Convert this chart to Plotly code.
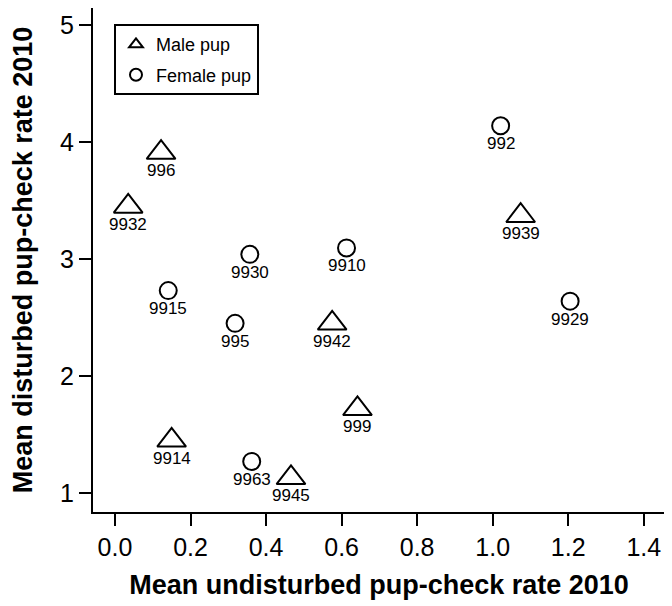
import plotly.graph_objects as go

# ---- data ----
male_ids = ["996", "9932", "9939", "9942", "999", "9914", "9945"]
male_x = [0.122, 0.035, 1.074, 0.575, 0.642, 0.150, 0.466]
male_y = [3.91, 3.45, 3.37, 2.45, 1.72, 1.45, 1.13]

female_ids = ["992", "9910", "9930", "9915", "995", "9929", "9963"]
female_x = [1.021, 0.613, 0.357, 0.141, 0.318, 1.205, 0.362]
female_y = [4.14, 3.095, 3.04, 2.73, 2.45, 2.64, 1.27]

x_ticks = [0.0, 0.2, 0.4, 0.6, 0.8, 1.0, 1.2, 1.4]
y_ticks = [1, 2, 3, 4, 5]

FONT = "Liberation Sans, Arial, sans-serif"

fig = go.Figure()
fig.add_trace(go.Scatter(
    x=male_x, y=male_y, mode="markers", name="Male pup", legendgroup="m",
    marker=dict(symbol="triangle-up-open", size=25, color="black", line=dict(width=2, color="black")),
))
fig.add_trace(go.Scatter(
    x=female_x, y=female_y, mode="markers", name="Female pup", legendgroup="f",
    marker=dict(symbol="circle-open", size=17, color="black", line=dict(width=2, color="black")),
))

for xs, ys, ids in [(male_x, male_y, male_ids), (female_x, female_y, female_ids)]:
    for xv, yv, t in zip(xs, ys, ids):
        fig.add_annotation(x=xv, y=yv, text=t, showarrow=False, yshift=-18,
                           font=dict(family=FONT, size=17, color="black"))

axis_common = dict(
    showline=True, linecolor="black", linewidth=2, mirror=False,
    ticks="outside", ticklen=12, tickwidth=2, tickcolor="black",
    showgrid=False, zeroline=False,
    tickfont=dict(family=FONT, size=25, color="black"),
)

# page has an 8px body margin, so the figure is sized to fit the 672x606 window
fig.update_layout(
    width=664, height=598,
    margin=dict(l=85, r=7, t=0, b=94, autoexpand=False),
    paper_bgcolor="white", plot_bgcolor="white",
    showlegend=True,
    legend=dict(
        x=0.0367, y=0.968, xanchor="left", yanchor="top",
        bordercolor="black", borderwidth=2, bgcolor="white",
        font=dict(family=FONT, size=18, color="black"),
        itemsizing="constant", tracegroupgap=4,
    ),
    xaxis=dict(
        range=[-0.0582, 1.4562], tickvals=x_ticks, tickformat=".1f",
        title=dict(text="Mean undisturbed pup-check rate 2010", standoff=15,
                   font=dict(family=FONT, size=27, color="black", weight="bold")),
        **axis_common,
    ),
    yaxis=dict(
        range=[0.8375, 5.146], tickvals=y_ticks,
        title=dict(text="Mean disturbed pup-check rate 2010", standoff=35,
                   font=dict(family=FONT, size=27, color="black", weight="bold")),
        **axis_common,
    ),
)

fig.write_html("out.html")
